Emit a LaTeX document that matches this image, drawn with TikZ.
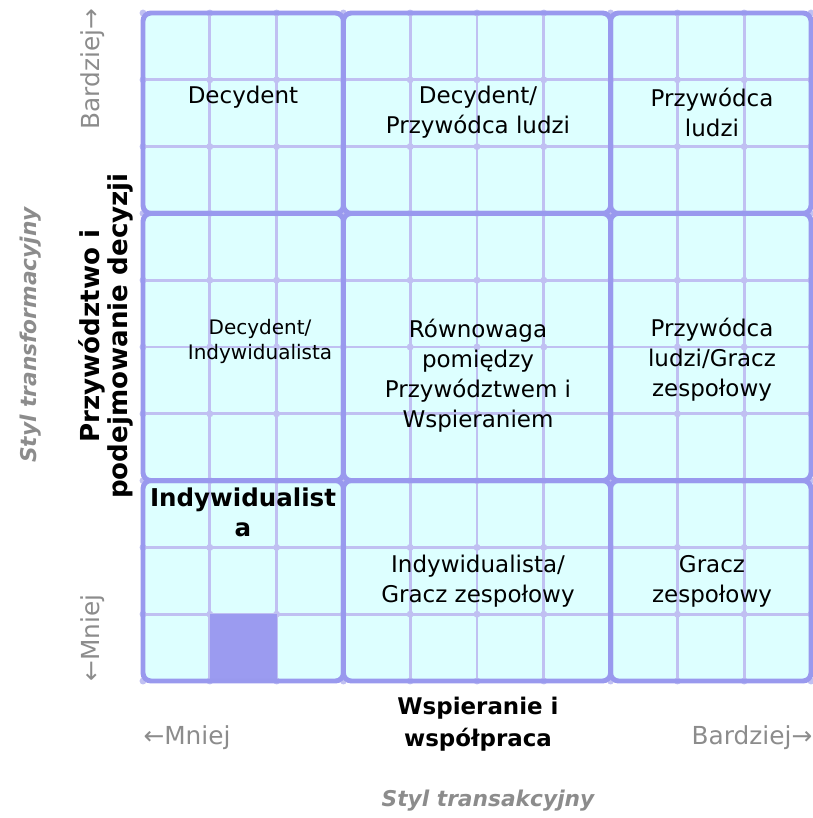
\documentclass[tikz,border=0pt]{standalone}
\usepackage{fontspec}
\setmainfont{DejaVu Sans}
\definecolor{cellfill}{RGB}{221,255,255}
\definecolor{bordercol}{RGB}{153,153,238}
\definecolor{thincol}{RGB}{192,192,242}
\definecolor{squarecol}{RGB}{155,155,240}
\definecolor{graytxt}{RGB}{140,140,140}
\newcommand\myfs[2]{\fontsize{#1}{#2}\selectfont}
\tikzset{
  maintxt/.style={inner sep=0pt, align=center, font=\myfs{17.25pt}{22.5pt}},
  smalltxt/.style={inner sep=0pt, align=center, font=\myfs{15pt}{18.75pt}},
  boldtxt/.style={inner sep=0pt, align=center, font=\myfs{18.4pt}{22.5pt}\bfseries},
  sidebold/.style={inner sep=0pt, align=center, font=\myfs{19.6pt}{21.5pt}\bfseries},
  axisbold/.style={inner sep=0pt, align=center, font=\myfs{17.2pt}{24pt}\bfseries},
  graylbl/.style={inner sep=0pt, text=graytxt, font=\myfs{18.6pt}{20pt}},
  titlelbl/.style={inner sep=0pt, text=graytxt, font=\myfs{16.3pt}{18pt}\bfseries\itshape},
  blockfill/.style={fill=cellfill, rounded corners=6pt},
  blockborder/.style={draw=bordercol, line width=3.7pt, rounded corners=6pt},
  thinline/.style={draw=thincol, line width=2pt},
  thindot/.style={fill=thincol}
}
\begin{document}
\begin{tikzpicture}[x=0.75pt,y=-0.75pt]
\useasboundingbox (0,0) rectangle (813,818);
\def\cx{143}\def\cy{13}\def\cs{66.8}
% block fills
\foreach \ca/\cb in {0/3,3/7,7/10}{
  \foreach \ra/\rb in {0/3,3/7,7/10}{
    \path[blockfill] ({\cx+\ca*\cs},{\cy+\ra*\cs}) rectangle ({\cx+\cb*\cs},{\cy+\rb*\cs});
  }
}
% thin grid lines
\foreach \i in {1,2,4,5,6,8,9}{
  \path[thinline] ({\cx+\i*\cs},{\cy}) -- ({\cx+\i*\cs},{\cy+10*\cs});
  \path[thinline] ({\cx},{\cy+\i*\cs}) -- ({\cx+10*\cs},{\cy+\i*\cs});
}
% dots at intersections
\foreach \i in {0,...,10}{
  \foreach \j in {0,...,10}{
    \fill[thindot] ({\cx+\i*\cs},{\cy+\j*\cs}) circle[radius=2.6pt];
  }
}
% highlighted square
\fill[squarecol] ({\cx+1*\cs},{\cy+9*\cs}) rectangle ({\cx+2*\cs},{\cy+10*\cs});
% block borders
\foreach \ca/\cb in {0/3,3/7,7/10}{
  \foreach \ra/\rb in {0/3,3/7,7/10}{
    \path[blockborder] ({\cx+\ca*\cs},{\cy+\ra*\cs}) rectangle ({\cx+\cb*\cs},{\cy+\rb*\cs});
  }
}
% cell texts
\node[maintxt] (t11) at (243,97) {Decydent};
\node[maintxt] (t12) at (478,112) {Decydent/\\Przywódca ludzi};
\node[maintxt] (t13) at (712,112) {Przywódca\\ludzi};
\node[smalltxt] (t21) at (260,341) {Decydent/\\Indywidualista};
\node[maintxt] (t22) at (478,376) {Równowaga\\pomiędzy\\Przywództwem i\\Wspieraniem};
\node[maintxt] (t23) at (712,360) {Przywódca\\ludzi/Gracz\\zespołowy};
\node[boldtxt] (t31) at (243,512) {Indywidualist\\a};
\node[maintxt] (t32) at (478,581) {Indywidualista/\\Gracz zespołowy};
\node[maintxt] (t33) at (712,581) {Gracz\\zespołowy};
% left axis
\node[graylbl, rotate=90] (lmore) at (93,69) {Bardziej→};
\node[graylbl, rotate=90] (lless) at (93,638) {←Mniej};
\node[sidebold, rotate=90] (lbold) at (106,336) {Przywództwo i\\podejmowanie decyzji};
\node[titlelbl, rotate=90] (ltitle) at (31,335) {Styl transformacyjny};
% bottom axis
\node[graylbl] (bless) at (187,738) {←Mniej};
\node[graylbl] (bmore) at (752,738) {Bardziej→};
\node[axisbold] (bbold) at (478,724) {Wspieranie i\\współpraca};
\node[titlelbl] (btitle) at (488,801) {Styl transakcyjny};
\end{tikzpicture}
\end{document}
